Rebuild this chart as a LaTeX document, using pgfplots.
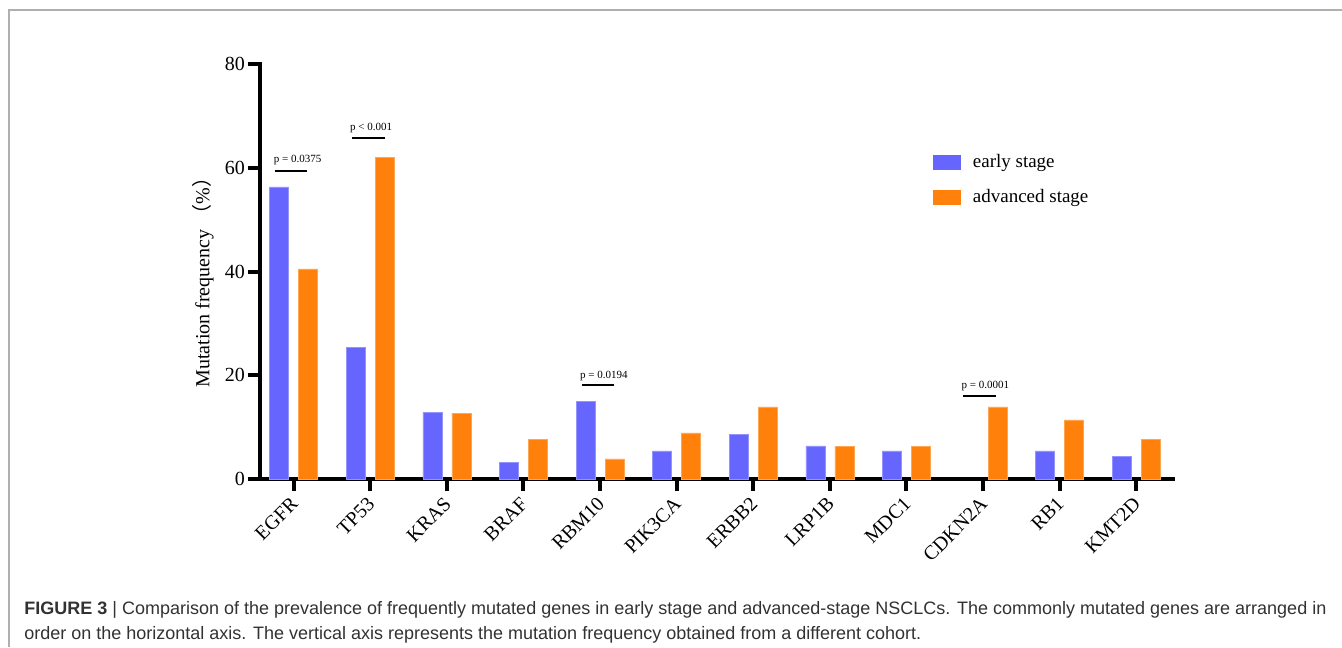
\documentclass[border=0pt]{standalone}
\usepackage{fontspec}
\setmainfont{Liberation Serif}
\newfontfamily\capfont{Liberation Sans}
\newfontfamily\cjk{Noto Sans CJK SC}
\usepackage{pgfplots}
\pgfplotsset{compat=1.18}
\definecolor{early}{RGB}{102,102,255}
\definecolor{adv}{RGB}{255,128,10}
\definecolor{frame}{RGB}{175,175,175}
\definecolor{captxt}{RGB}{50,50,50}
\begin{document}
\begin{tikzpicture}
\useasboundingbox (0pt,0pt) rectangle (671pt,-323.5pt);
\draw[frame, line width=1pt] (4.5pt,-323.5pt) -- (4.5pt,-5.25pt) -- (671pt,-5.25pt);
\begin{axis}[
  at={(130pt,-239.5pt)}, anchor=south west,
  scale only axis, width=456.5pt, height=207.5pt,
  xmin=-0.44, xmax=11.48, ymin=0, ymax=80,
  axis x line*=bottom, axis y line*=left,
  axis line style={line width=2pt, -, line cap=rect},
  ytick={0,20,40,60,80},
  xtick={0,...,11},
  xticklabels={EGFR,TP53,KRAS,BRAF,RBM10,PIK3CA,ERBB2,LRP1B,MDC1,CDKN2A,RB1,KMT2D},
  tick style={line width=2pt, black},
  major tick length=6pt, tick align=outside,
  /pgf/number format/assume math mode=true,
  y tick label style={font=\fontsize{10}{11}\selectfont, xshift=2pt},
  x tick label style={font=\fontsize{10}{11}\selectfont, xshift=-2pt, yshift=2.5pt, rotate=45, anchor=north east},
  ylabel={Mutation frequency {\cjk （}\%{\cjk ）}},
  ylabel style={font=\fontsize{9.5}{11}\selectfont},
  every axis y label/.style={at={(axis description cs:-0.0624,0.485)}, rotate=90, anchor=center},
  legend style={draw=none, fill=none, at={(axis description cs:0.737,0.793)}, anchor=north west,
    font=\fontsize{9.5}{11}\selectfont, row sep=5.5pt, column sep=4pt, inner sep=0pt},
  legend cell align=left,
  clip=false,
]
\addplot[ybar, bar width=9.5pt, bar shift=-7.25pt, fill=early, draw=early!70!white, line width=0.3pt,
  legend image code/.code={\fill[early] (0pt,-3.5pt) rectangle (13.5pt,3.5pt);}]
  coordinates {(0,56.3) (1,25.4) (2,12.85) (3,3.2) (4,14.9) (5,5.4) (6,8.55) (7,6.4) (8,5.4) (10,5.4) (11,4.3)};
\addlegendentry{early stage}
\addplot[ybar, bar width=9.5pt, bar shift=7.25pt, fill=adv, draw=adv!70!white, line width=0.3pt,
  legend image code/.code={\fill[adv] (0pt,-3.5pt) rectangle (13.5pt,3.5pt);}]
  coordinates {(0,40.5) (1,62.0) (2,12.7) (3,7.6) (4,3.86) (5,8.87) (6,13.9) (7,6.3) (8,6.3) (9,13.9) (10,11.4) (11,7.6)};
\addlegendentry{advanced stage}
\addplot[black, line width=0.75pt, forget plot] coordinates {(-0.25,59.4) (0.18,59.4)};
\addplot[black, line width=0.75pt, forget plot] coordinates {(0.76,65.7) (1.19,65.7)};
\addplot[black, line width=0.75pt, forget plot] coordinates {(3.77,18.1) (4.18,18.1)};
\addplot[black, line width=0.75pt, forget plot] coordinates {(8.74,16.0) (9.17,16.0)};
\node[font=\fontsize{5.5}{6}\selectfont, inner sep=0pt] at (axis cs:0.05,61.5) {p = 0.0375};
\node[font=\fontsize{5.5}{6}\selectfont, inner sep=0pt] at (axis cs:1.01,67.6) {p < 0.001};
\node[font=\fontsize{5.5}{6}\selectfont, inner sep=0pt] at (axis cs:4.05,19.85) {p = 0.0194};
\node[font=\fontsize{5.5}{6}\selectfont, inner sep=0pt] at (axis cs:9.03,17.9) {p = 0.0001};
\end{axis}
\node[anchor=base west, inner sep=0pt, font=\capfont\fontsize{9}{11}\selectfont, text=captxt] at (12pt,-307pt)
  {\textbf{FIGURE 3} | Comparison of the prevalence of frequently mutated genes in early stage and advanced-stage NSCLCs. The commonly mutated genes are arranged in};
\node[anchor=base west, inner sep=0pt, font=\capfont\fontsize{9}{11}\selectfont, text=captxt] at (12pt,-319.5pt)
  {order on the horizontal axis. The vertical axis represents the mutation frequency obtained from a different cohort.};
\end{tikzpicture}
\end{document}
